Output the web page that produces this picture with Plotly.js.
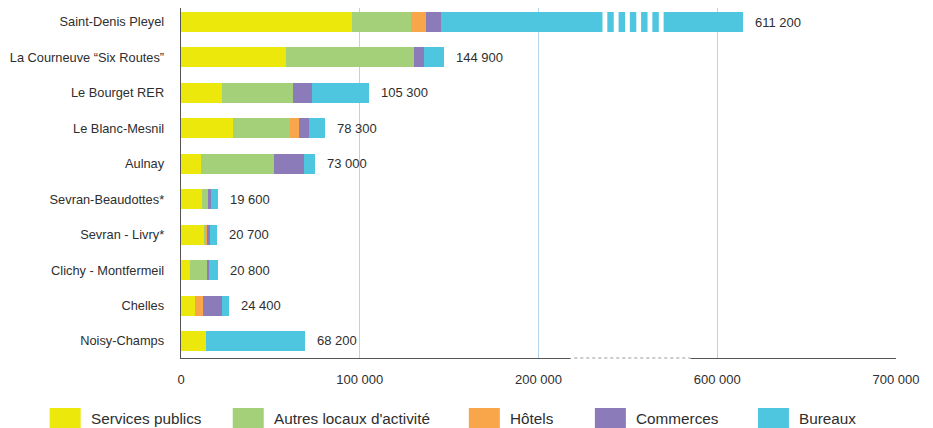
<!DOCTYPE html>
<html>
<head>
<meta charset="utf-8">
<script src="https://cdn.plot.ly/plotly-3.0.1.min.js"></script>
<style>html,body{margin:0;padding:0;background:#fff;}#chart{width:933px;height:428px;}</style>
</head>
<body>
<div id="chart"></div>
<script>
// ---- data (m²) ----
const categories = ["Saint-Denis Pleyel", "La Courneuve “Six Routes”", "Le Bourget RER", "Le Blanc-Mesnil", "Aulnay",
  "Sevran-Beaudottes*", "Sevran - Livry*", "Clichy - Montfermeil", "Chelles", "Noisy-Champs"];
const servicesPublics = [95600, 58600, 23200, 29000, 11000, 11600, 12700, 4900, 7700, 13800];
const autresLocaux    = [33000, 71700, 39500, 31800, 41000, 3400, 700, 9500, 0, 0];
const hotels          = [8400, 0, 0, 5200, 0, 0, 900, 0, 4500, 0];
const commerces       = [8400, 5600, 10700, 5600, 16900, 1700, 2200, 1100, 10700, 400];
const bureaux         = [468800, 11200, 31500, 9000, 6200, 3900, 3900, 5000, 3900, 55000];
const totalLabels = ["611 200", "144 900", "105 300", "78 300", "73 000", "19 600", "20 700", "20 800", "24 400", "68 200"];
const seriesNames = ["Services publics", "Autres locaux d'activité", "Hôtels", "Commerces", "Bureaux"];
const seriesColors = ["#ece80c", "#a3d078", "#f9a64b", "#8b7bb8", "#4fc6df"];
const tickValuesReal = [0, 100000, 200000, 600000, 700000];
const tickLabels = ["0", "100 000", "200 000", "600 000", "700 000"];

// ---- broken axis: 200 000 .. 600 000 shown as one 100 000 step ----
const BREAK_LO = 200000, BREAK_HI = 600000, BREAK_SHOWN = 100000;
function disp(v) {
  if (v <= BREAK_LO) return v;
  if (v >= BREAK_HI) return v - (BREAK_HI - BREAK_LO) + BREAK_SHOWN;
  return BREAK_LO + (v - BREAK_LO) / (BREAK_HI - BREAK_LO) * BREAK_SHOWN;
}

const series = [servicesPublics, autresLocaux, hotels, commerces, bureaux];
const cum = categories.map(() => 0);
const traces = series.map((vals, s) => {
  const x = vals.map((v, i) => {
    const d = disp(cum[i] + v) - disp(cum[i]);
    cum[i] += v;
    return d;
  });
  return {
    type: "bar", orientation: "h", name: seriesNames[s],
    y: categories, x: x, customdata: vals,
    marker: {color: seriesColors[s], line: {width: 0}},
    hovertemplate: "%{y}<br>" + seriesNames[s] + ": %{customdata}<extra></extra>",
    showlegend: false
  };
});

const font = "Liberation Sans, Arial, sans-serif";
const textColor = "#2e2e2e";

// value labels at bar ends
const annotations = categories.map((c, i) => ({
  x: disp(cum[i]), y: c, xref: "x", yref: "y", text: totalLabels[i],
  showarrow: false, xanchor: "left", xshift: 10,
  font: {family: font, size: 13, color: textColor}
}));

// geometry helpers (pixel -> paper)
const plotL = 181.3, plotR = 896, plotT = 8, plotB = 358;
const px2x = p => (p - plotL) / (plotR - plotL);
const px2y = p => (plotB - p) / (plotB - plotT);

const shapes = [];
// break stripes on the long bar
for (let k = 0; k < 6; k++) {
  const a = 235800 + k * 6300;
  shapes.push({type: "rect", xref: "x", yref: "y", x0: a, x1: a + 2700, y0: -0.33, y1: 0.33,
    fillcolor: "#ffffff", line: {width: 0}, layer: "above"});
}
// break on the axis line
shapes.push({type: "line", xref: "x", yref: "paper", x0: 218000, x1: 285000, y0: 0, y1: 0,
  line: {color: "#ffffff", width: 3}, layer: "above"});
shapes.push({type: "line", xref: "x", yref: "paper", x0: 220000, x1: 285000, y0: 0, y1: 0,
  line: {color: "#9a9a9a", width: 1.2, dash: "dot"}, layer: "above"});

// custom legend
const legendPx = [50, 233, 469, 595, 758];
seriesNames.forEach((n, s) => {
  shapes.push({type: "rect", xref: "paper", yref: "paper",
    x0: px2x(legendPx[s]), x1: px2x(legendPx[s] + 31),
    y0: px2y(428), y1: px2y(408), fillcolor: seriesColors[s], line: {width: 0}});
  annotations.push({xref: "paper", yref: "paper", x: px2x(legendPx[s] + 39), y: px2y(418),
    text: n, showarrow: false, xanchor: "left", yanchor: "middle",
    font: {family: font, size: 15.3, color: textColor}});
});

const layout = {
  width: 933, height: 428,
  margin: {l: plotL, r: 933 - plotR, t: plotT, b: 428 - plotB},
  paper_bgcolor: "#ffffff", plot_bgcolor: "#ffffff",
  barmode: "stack", bargap: 0.435,
  font: {family: font, color: textColor, size: 13},
  xaxis: {
    range: [0, disp(700000)], tickvals: tickValuesReal.map(disp), ticktext: tickLabels,
    showgrid: true, gridcolor: "#b3d5ee", gridwidth: 1.2, zeroline: false,
    showline: true, linecolor: "#555555", linewidth: 1.3,
    ticks: "", ticklabelstandoff: 9,
    tickfont: {family: font, size: 13, color: textColor}, fixedrange: true
  },
  yaxis: {
    type: "category", range: [9.48, -0.395], showgrid: false, zeroline: false,
    showline: true, linecolor: "#555555", linewidth: 1.3,
    ticks: "", ticklabelstandoff: 13,
    tickfont: {family: font, size: 12.8, color: textColor}, fixedrange: true
  },
  shapes: shapes,
  annotations: annotations,
  showlegend: false
};

Plotly.newPlot("chart", traces, layout, {displayModeBar: false, staticPlot: true});
</script>
</body>
</html>
